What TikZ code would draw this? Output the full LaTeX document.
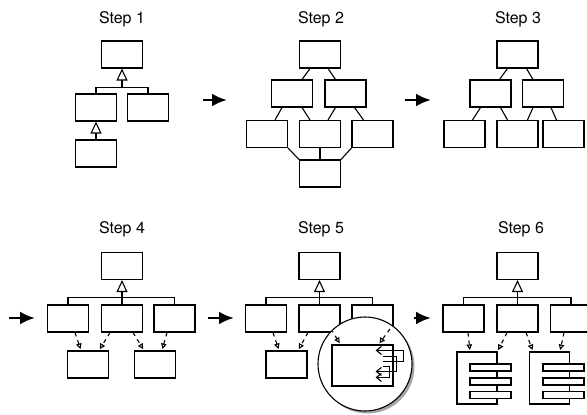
\documentclass[tikz,border=0pt]{standalone}
\usepackage{fontspec}
\setmainfont{TeX Gyre Heros}
\usetikzlibrary{arrows.meta,shadows}

\tikzset{
  cls/.style={draw, line width=1.1pt, fill=white, minimum width=41pt,
              minimum height=27pt, inner sep=0pt},
  comp/.style={draw, line width=1.1pt, fill=white, minimum width=40pt,
               minimum height=52pt, inner sep=0pt},
  port/.style={draw, line width=1.1pt, fill=white, minimum width=41pt,
               minimum height=7pt, inner sep=0pt},
  title/.style={font=\fontsize{16}{19}\selectfont, inner sep=0pt, anchor=base},
  link/.style={line width=1.1pt},
  gen/.style={line width=1.1pt, -{Triangle[open,length=12pt,width=11pt]}},
  dep/.style={line width=1.1pt, dash pattern=on 4pt off 4pt,
              -{Triangle[open,length=5.5pt,width=5.5pt]}, shorten >=1.5pt},
  flow/.style={line width=2.6pt, -{Latex[length=15pt,width=13pt]}},
  loopback/.style={line width=1.1pt, -{Straight Barb[length=5pt,width=8pt]}},
  lens/.style={circle, draw, line width=1.1pt, fill=white, minimum size=94pt,
               inner sep=0pt,
               drop shadow={shadow xshift=2.5pt, shadow yshift=-2.5pt,
                            fill=black, opacity=0.35}},
}

\begin{document}
\begin{tikzpicture}[x=1pt, y=-1pt]
\clip (0,0) rectangle (587,415);

% ---------------- Step 1 ----------------
\node[title] (t1) at (122,23.5) {Step 1};
\node[cls] (a1) at (122,54.5) {};
\node[cls] (b1) at (96,107.5) {};
\node[cls] (c1) at (148,107.5) {};
\node[cls] (d1) at (96,153.5) {};
\coordinate (j1) at (122,88);
\draw[link] (b1.north) -- ++(0,-6) -| (c1.north);
\draw[gen] (j1) -- (a1.south);
\draw[gen] (d1.north) -- (b1.south);

% ---------------- Step 2 ----------------
\node[title] (t2) at (321,23.5) {Step 2};
\node[cls] (a2) at (320,54.5) {};
\node[cls] (b2) at (292,93.5) {};
\node[cls] (c2) at (345.5,93.5) {};
\node[cls] (d2) at (267,134) {};
\node[cls] (e2) at (320,134) {};
\node[cls] (f2) at (372.5,134) {};
\node[cls] (g2) at (320,173.5) {};
\draw[link] ([xshift=-10pt]a2.south) -- ([xshift=10pt]b2.north);
\draw[link] ([xshift=8pt]a2.south) -- ([xshift=-10pt]c2.north);
\draw[link] ([xshift=-10pt]b2.south) -- ([xshift=8pt]d2.north);
\draw[link] ([xshift=10pt]b2.south) -- ([xshift=-10pt]e2.north);
\draw[link] ([xshift=-10pt]c2.south) -- ([xshift=8pt]e2.north);
\draw[link] ([xshift=9pt]c2.south) -- ([xshift=-9pt]f2.north);
\draw[link] (d2.south east) -- (g2.north west);
\draw[link] (e2.south) -- (g2.north);
\draw[link] (f2.south west) -- (g2.north east);

% ---------------- Step 3 ----------------
\node[title] (t3) at (518,23.5) {Step 3};
\node[cls] (a3) at (517.5,54.5) {};
\node[cls] (b3) at (490.5,93.5) {};
\node[cls] (c3) at (543,93.5) {};
\node[cls] (d3) at (464.5,134) {};
\node[cls] (e3) at (517.5,134) {};
\node[cls] (f3) at (563.5,134) {};
\draw[link] ([xshift=-10pt]a3.south) -- ([xshift=9pt]b3.north);
\draw[link] ([xshift=9pt]a3.south) -- ([xshift=-10pt]c3.north);
\draw[link] ([xshift=-10pt]b3.south) -- ([xshift=8pt]d3.north);
\draw[link] ([xshift=10pt]b3.south) -- ([xshift=-10pt]e3.north);
\draw[link] ([xshift=-10pt]c3.south) -- ([xshift=10pt]e3.north);
\draw[link] ([xshift=8pt]c3.south) -- ([xshift=-7pt]f3.north);

% ---------------- Step 4 ----------------
\node[title] (t4) at (122,233.5) {Step 4};
\node[cls] (a4) at (122,266) {};
\node[cls] (b4) at (68,318.5) {};
\node[cls] (c4) at (122,318.5) {};
\node[cls] (d4) at (174.5,318.5) {};
\node[cls] (e4) at (88,364.5) {};
\node[cls] (f4) at (155,364.5) {};
\draw[link] (b4.north) -- ++(0,-7) -| (d4.north);
\draw[gen] (c4.north) -- (a4.south);
\draw[dep] ([xshift=7pt]b4.south) -- ([xshift=-7pt]e4.north);
\draw[dep] ([xshift=-12pt]c4.south) -- ([xshift=11pt]e4.north);
\draw[dep] ([xshift=11pt]c4.south) -- ([xshift=-11pt]f4.north);
\draw[dep] ([xshift=-7.5pt]d4.south) -- ([xshift=7pt]f4.north);

% ---------------- Step 5 ----------------
\node[title] (t5) at (321,233.5) {Step 5};
\node[cls] (a5) at (319.5,266) {};
\node[cls] (b5) at (266,318.5) {};
\node[cls] (c5) at (319.5,318.5) {};
\node[cls] (d5) at (372.5,318.5) {};
\node[cls] (e5) at (286.5,364.5) {};
\draw[link] (b5.north) -- ++(0,-7) -| (d5.north);
\draw[gen] (c5.north) -- (a5.south);
\draw[dep] ([xshift=7pt]b5.south) -- ([xshift=-7.5pt]e5.north);
\draw[dep] ([xshift=-11.5pt]c5.south) -- ([xshift=11.5pt]e5.north);

% magnified view of the hidden class
\node[lens] (lens5) at (365,364) {};
\begin{scope}
  \path[clip] (lens5.center) circle (46);
  \node[draw, line width=1.1pt, minimum width=61pt, minimum height=41pt,
        inner sep=0pt] (big5) at (362.5,365.5) {};
  \coordinate (m1) at (331,329);
  \coordinate (m2) at (390,329);
  \draw[dep] (m1) -- ([xshift=9pt]big5.north west);
  \draw[dep] (m2) -- ([xshift=-15pt]big5.north east);
  \begin{scope}[shift={(big5.north east)}]
    \draw[loopback] (-11,17) -- (10,17) -- (10,6) -- (-18,6);
    \draw[loopback] (-11,12) -- (3,12) -- (3,27) -- (-18,27);
    \draw[loopback] (-11,22) -- (-4,22) -- (-4,33) -- (-18,33);
  \end{scope}
\end{scope}

% ---------------- Step 6 ----------------
\node[title] (t6) at (521,233.5) {Step 6};
\node[cls] (a6) at (517.5,266) {};
\node[cls] (b6) at (463.5,318.5) {};
\node[cls] (c6) at (517.5,318.5) {};
\node[cls] (d6) at (571,318.5) {};
\node[comp] (e6) at (477,378) {};
\node[port] (e6p1) at (490.5,367.5) {};
\node[port] (e6p2) at (490.5,381.5) {};
\node[port] (e6p3) at (490.5,395) {};
\node[comp] (f6) at (549.5,378) {};
\node[port] (f6p1) at (563.5,367.5) {};
\node[port] (f6p2) at (563.5,381.5) {};
\node[port] (f6p3) at (563.5,395) {};
\draw[link] (b6.north) -- ++(0,-7) -| (d6.north);
\draw[gen] (c6.north) -- (a6.south);
\draw[dep] ([xshift=4.5pt]b6.south) -- ([xshift=-7pt]e6.north);
\draw[dep] ([xshift=-10.5pt]c6.south) -- (e6.north east);
\draw[dep] ([xshift=8.5pt]c6.south) -- ([xshift=4pt]f6.north west);
\draw[dep] ([xshift=-7pt]d6.south) -- ([xshift=10.5pt]f6.north);

% ---------------- progression arrows ----------------
\coordinate (s12) at (203,100);  \coordinate (e12) at (227,100);
\coordinate (s23) at (405,100);  \coordinate (e23) at (431,100);
\coordinate (s04) at (9,318);    \coordinate (e04) at (35,318);
\coordinate (s45) at (208,318);  \coordinate (e45) at (234,318);
\coordinate (s56) at (414,318);  \coordinate (e56) at (431,318);
\draw[flow] (s12) -- (e12);
\draw[flow] (s23) -- (e23);
\draw[flow] (s04) -- (e04);
\draw[flow] (s45) -- (e45);
\draw[flow] (s56) -- (e56);
\end{tikzpicture}
\end{document}
